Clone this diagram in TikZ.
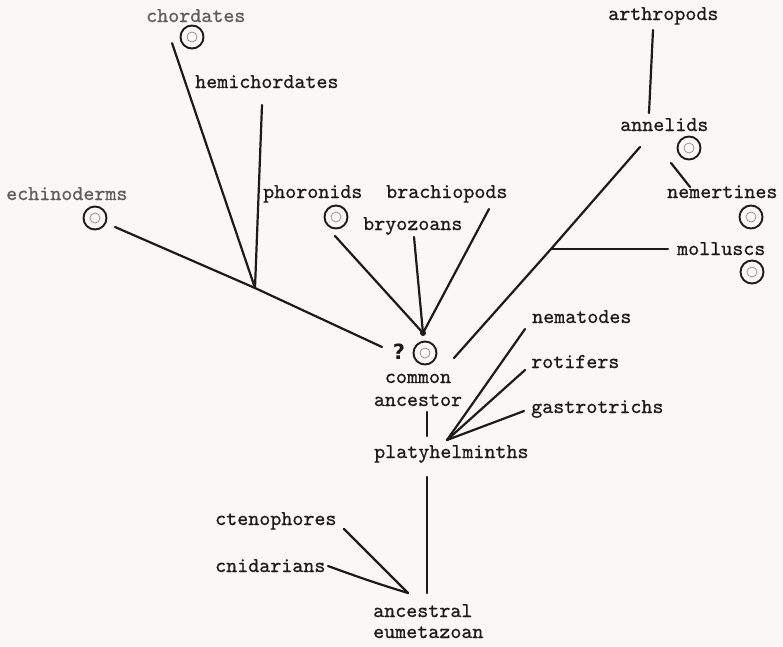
\documentclass[tikz,border=0pt]{standalone}
\usepackage{fontspec}
\usepackage{tikz}
\usetikzlibrary{calc,backgrounds}

\newfontfamily\typer{lmmono10-regular.otf}[FakeBold=0.7]
\newfontfamily\heavy{DejaVu Sans}

\definecolor{paper}{RGB}{250,248,246}
\definecolor{ink}{RGB}{30,26,26}
\definecolor{pale}{RGB}{95,92,92}

\tikzset{
  taxon/.style={font=\fontsize{21}{22}\selectfont\typer,text=ink,inner sep=0pt,anchor=base west},
  ring/.style={circle,draw=ink,line width=1.9pt,minimum size=23pt,inner sep=0pt},
  core/.style={circle,draw=black!45,line width=0.7pt,minimum size=10pt,inner sep=0pt},
  branch/.style={draw=ink,line width=2.2pt,line cap=round}
}
\newcommand{\Ovum}[2]{\node[ring] (#1) at (#2) {}; \node[core] (#1_in) at (#2) {};}

\begin{document}
\begin{tikzpicture}[x=1pt,y=-1pt]
            \fill[paper] (0,0) rectangle (783,646);
            \useasboundingbox (0,0) rectangle (783,646);

            \node[taxon,text=pale] (chordates) at (146,22) {chordates};
            \node[taxon] (hemichordates) at (195,88) {hemichordates};
            \node[taxon,text=pale] (echinoderms) at (6,200) {echinoderms};
            \node[taxon] (phoronids) at (263,198) {phoronids};
            \node[taxon] (brachiopods) at (386,198) {brachiopods};
            \node[taxon] (bryozoans) at (363,230) {bryozoans};
            \node[taxon] (arthropods) at (608,20) {arthropods};
            \node[taxon] (annelids) at (620,131) {annelids};
            \node[taxon] (nemertines) at (667,198) {nemertines};
            \node[taxon] (molluscs) at (677,255) {molluscs};
            \node[taxon] (nematodes) at (532,323) {nematodes};
            \node[taxon] (rotifers) at (531,368) {rotifers};
            \node[taxon] (gastrotrichs) at (531,413) {gastrotrichs};
            \node[taxon,anchor=base,align=center] (ancestor) at (418,406) {common\\[1pt]ancestor};
            \node[taxon] (platyhelminths) at (374,458) {platyhelminths};
            \node[taxon] (ctenophores) at (215,525) {ctenophores};
            \node[taxon] (cnidarians) at (215,572) {cnidarians};
            \node[taxon,align=left] (eumetazoan) at (373,638) {ancestral\\[-1pt]eumetazoan};
            \node[inner sep=0pt,text=ink,font=\fontsize{21}{22}\heavy\bfseries] (query) at (399,352) {?};

            \Ovum{o_chor}{192,37}
            \Ovum{o_echi}{95,218}
            \Ovum{o_phor}{336,217}
            \Ovum{o_anne}{689,148}
            \Ovum{o_neme}{751,217}
            \Ovum{o_moll}{752,272}
            \Ovum{o_anc}{425,353}

            \coordinate (j_1) at (255,288);
            \coordinate (j_2) at (423,333);
            \coordinate (j_3) at (551,249);
            \coordinate (j_4) at (447,440);
            \coordinate (j_5) at (408,593);

            \coordinate (t_chor) at (172,43);
            \coordinate (t_hemi) at (262,105);
            \coordinate (t_echi) at (115,227);
            \coordinate (t_q) at (382,347);
            \coordinate (t_phor) at (335,236);
            \coordinate (t_bryo) at (414,237);
            \coordinate (t_brac) at (489,209);
            \coordinate (t_anc) at (454,358);
            \coordinate (t_anne) at (640,147);
            \coordinate (t_moll) at (668,249);
            \coordinate (t_neme) at (671,163);
            \coordinate (b_neme) at (690,187);
            \coordinate (t_arth) at (653,30);
            \coordinate (b_arth) at (649,113);
            \coordinate (t_up) at (427,412);
            \coordinate (b_up) at (427,436);
            \coordinate (t_nema) at (525,329);
            \coordinate (t_roti) at (525,370);
            \coordinate (t_gast) at (524,411);
            \coordinate (t_down) at (427,477);
            \coordinate (b_down) at (427,593);
            \coordinate (t_cten) at (344,529);
            \coordinate (t_cnid) at (328,566);

            \draw[branch] (t_chor) -- (j_1);
            \draw[branch] (t_hemi) -- (j_1);
            \draw[branch] (t_echi) -- (j_1) -- (t_q);

            \draw[branch] (t_phor) -- (j_2);
            \draw[branch] (t_bryo) -- (j_2);
            \draw[branch] (t_brac) -- (j_2);
            \fill[ink] (j_2) circle (3pt);

            \draw[branch] (t_anc) -- (j_3) -- (t_anne);
            \draw[branch] (j_3) -- (t_moll);
            \draw[branch] (t_neme) -- (b_neme);
            \draw[branch] (t_arth) -- (b_arth);

            \draw[branch] (t_up) -- (b_up);
            \draw[branch] (j_4) -- (t_nema);
            \draw[branch] (j_4) -- (t_roti);
            \draw[branch] (j_4) -- (t_gast);

            \draw[branch] (t_down) -- (b_down);
            \draw[branch] (t_cten) -- (j_5);
            \draw[branch] (t_cnid) to[out=-20,in=163] (j_5);
\end{tikzpicture}
\end{document}
